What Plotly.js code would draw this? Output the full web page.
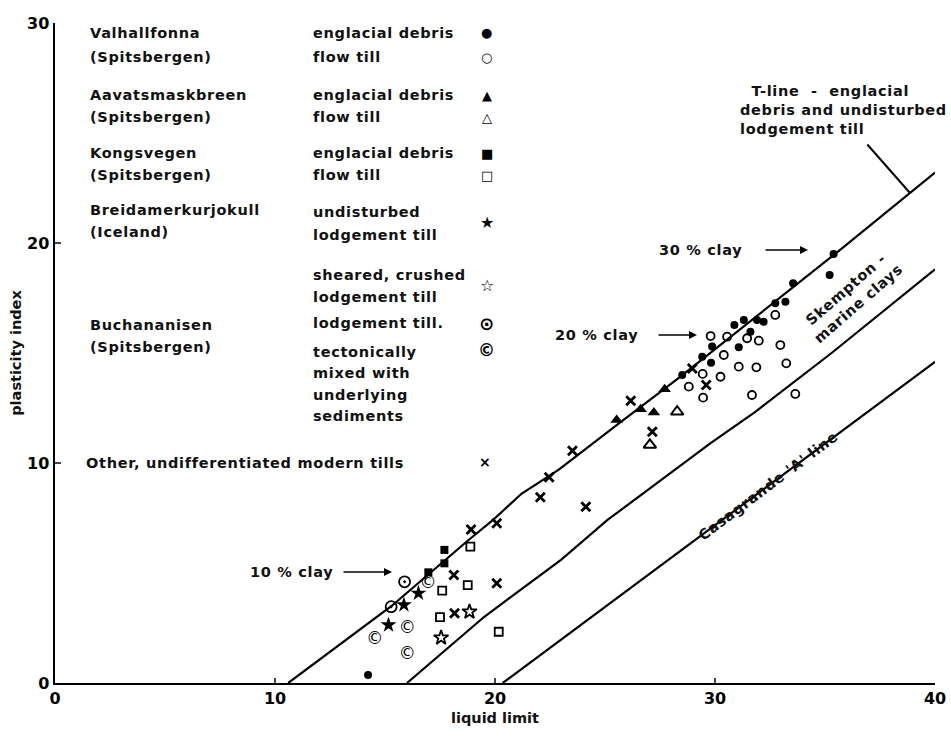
<!DOCTYPE html>
<html>
<head>
<meta charset="utf-8">
<script src="https://cdn.plot.ly/plotly-3.0.1.min.js"></script>
<style>html,body{margin:0;padding:0;background:#fff}#chart{width:951px;height:736px}
.annotation-text{letter-spacing:0.7px}</style>
</head>
<body>
<div id="chart"></div>
<script>
// ---- Data (liquid limit, plasticity index) ----
var valhEngX = [35.21,35.39,33.55,33.2,32.74,31.91,32.21,31.31,30.88,31.61,31.08,29.87,29.42,29.82,28.51,14.23];
var valhEngY = [18.55,19.5,18.17,17.33,17.26,16.5,16.42,16.5,16.27,15.97,15.26,15.29,14.83,14.56,14.0,0.36];
var valhFlowX = [29.8,30.55,32.74,31.99,32.97,30.4,29.44,30.25,31.08,31.88,33.24,28.81,29.46,31.68,33.65,31.46];
var valhFlowY = [15.77,15.74,16.73,15.56,15.36,14.91,14.05,13.92,14.38,14.35,14.53,13.47,12.97,13.09,13.14,15.67];
var aavEngX = [25.53,26.62,27.22,27.71];
var aavEngY = [11.95,12.44,12.29,13.35];
var aavFlowX = [28.28,27.04];
var aavFlowY = [12.33,10.82];
var kongEngX = [17.7,17.7,16.97];
var kongEngY = [6.05,5.44,5.03];
var kongFlowX = [18.88,17.6,18.76,17.5,20.17];
var kongFlowY = [6.2,4.2,4.45,2.99,2.33];
var breidUndX = [15.86,15.16,16.52];
var breidUndY = [3.55,2.64,4.08];
var breidShX = [18.84,17.55];
var breidShY = [3.24,2.06];
var buchLodgeX = [15.89,15.28];
var buchLodgeY = [4.6,3.47];
var buchTectX = [16.95,14.53,16.01,16.01];
var buchTectY = [4.5,1.95,2.48,1.3];
var otherX = [18.13,18.16,20.08,18.91,20.08,22.06,24.13,22.46,23.52,26.17,27.15,29.6,28.97];
var otherY = [4.91,3.17,4.53,6.98,7.26,8.44,8.01,9.35,10.56,12.83,11.42,13.55,14.3];

// reference lines
var tLineX = [10.6,15.3,18.8,19.9,21.2,22.9,25.5,28.4,35.7,38.9,40];
var tLineY = [0,3.5,6.5,7.4,8.6,9.7,11.7,13.9,19.7,22.3,23.2];
var skempX = [16,19.5,23,25.1,29.8,31.8,35.3,40];
var skempY = [0,3.0,5.6,7.4,10.9,12.3,15.0,18.8];
var aLineX = [20.35,25.7,29.3,40];
var aLineY = [0,4.0,6.65,14.6];

var xTicks = [0,10,20,30,40];
var yTicks = [0,10,20,30];

// ---- Legend texts ----
var siteLabels = ["Valhallfonna","(Spitsbergen)","Aavatsmaskbreen","(Spitsbergen)","Kongsvegen","(Spitsbergen)","Breidamerkurjokull","(Iceland)","Buchananisen","(Spitsbergen)","Other, undifferentiated modern tills"];
var siteRows = [33,57,95,117,153,175,210,232,325,347,463];
var typeLabels = ["englacial debris","flow till","englacial debris","flow till","englacial debris","flow till","undisturbed","lodgement till","sheared, crushed","lodgement till","lodgement till.","tectonically","mixed with","underlying","sediments"];
var typeRows = [33,57,95,117,153,175,212,235,275,297,323,352,373,395,416];
var symChars = ["●","○","▲","△","■","□","★","☆","⊙","©","×"];
var symRows = [33,57,95,117,153,175,222,285,323,350,462];
var symSizes = [13,13,13,13,13,13,16,16,18,17,14];

var L = 55, R = 16, T = 23, B = 53, W = 951, H = 736;
function px(x){ return (x - L) / (W - L - R); }
function py(y){ return (H - B - y) / (H - T - B); }

var FONT = "DejaVu Sans";
var TXT = {family:FONT,size:14.5,color:'#111',weight:'bold'};
var ann = [];
siteLabels.forEach(function(s,i){
  ann.push({xref:'paper',yref:'paper',x:px(i===10?84:88),y:py(siteRows[i]),text:s,showarrow:false,xanchor:'left',yanchor:'middle',font:TXT});
});
typeLabels.forEach(function(s,i){
  ann.push({xref:'paper',yref:'paper',x:px(311),y:py(typeRows[i]),text:s,showarrow:false,xanchor:'left',yanchor:'middle',font:TXT});
});
symChars.forEach(function(s,i){
  ann.push({xref:'paper',yref:'paper',x:px(i===10?485:487),y:py(symRows[i]),text:s,showarrow:false,xanchor:'center',yanchor:'middle',font:{family:FONT,size:symSizes[i],color:'#000',weight:'bold'}});
});
// clay labels with arrows
function clay(txt, tx, ty, ax0, ax1){
  ann.push({xref:'paper',yref:'paper',x:px(tx),y:py(ty),text:txt,showarrow:false,xanchor:'left',yanchor:'middle',font:TXT});
  ann.push({xref:'paper',yref:'paper',x:px(ax1),y:py(ty),ax:px(ax0),ay:py(ty),axref:'paper',ayref:'paper',text:'',showarrow:true,arrowhead:2,arrowsize:1,arrowwidth:1.6,arrowcolor:'#000'});
}
clay("10 % clay",248,572,342,392);
clay("20 % clay",553,335,657,697);
clay("30 % clay",657,250,764,808);
// T-line label
ann.push({xref:'paper',yref:'paper',x:px(738),y:py(110),text:"  T-line  -  englacial<br>debris and undisturbed<br>lodgement till",showarrow:false,xanchor:'left',yanchor:'middle',align:'left',font:TXT});
ann.push({xref:'paper',yref:'paper',x:px(910),y:py(193),ax:px(866),ay:py(143),axref:'paper',ayref:'paper',text:'',showarrow:true,arrowhead:0,arrowwidth:2,arrowcolor:'#000'});
// rotated line labels
ann.push({xref:'paper',yref:'paper',x:px(852),y:py(296),text:"Skempton -<br>marine clays",showarrow:false,textangle:-41,xanchor:'center',yanchor:'middle',font:TXT});
ann.push({xref:'paper',yref:'paper',x:px(768),y:py(486),text:"Casagrande 'A' line",showarrow:false,textangle:-37,xanchor:'center',yanchor:'middle',font:TXT});

function pts(x,y,sym,size,lw,name){
  return {type:'scatter',mode:'markers',x:x,y:y,name:name,cliponaxis:false,
    marker:{symbol:sym,size:size,color:'#000',line:{color:'#000',width:lw}}};
}
var lineStyle = {color:'#000',width:2.2};
var traces = [
  {type:'scatter',mode:'lines',x:tLineX,y:tLineY,line:lineStyle,name:'T-line'},
  {type:'scatter',mode:'lines',x:skempX,y:skempY,line:lineStyle,name:'Skempton'},
  {type:'scatter',mode:'lines',x:aLineX,y:aLineY,line:lineStyle,name:'A-line'},
  pts(valhEngX,valhEngY,'circle',8,0,'Valhallfonna englacial'),
  pts(valhFlowX,valhFlowY,'circle-open',8,1.8,'Valhallfonna flow till'),
  pts(aavEngX,aavEngY,'triangle-up',11,0,'Aavatsmaskbreen englacial'),
  pts(aavFlowX,aavFlowY,'triangle-up-open',11,2,'Aavatsmaskbreen flow till'),
  pts(kongEngX,kongEngY,'square',8,0,'Kongsvegen englacial'),
  pts(kongFlowX,kongFlowY,'square-open',8,1.8,'Kongsvegen flow till'),
  pts(breidUndX,breidUndY,'star',12,0,'undisturbed lodgement till'),
  pts(breidShX,breidShY,'star-open',11,1.8,'sheared lodgement till'),
  pts(buchLodgeX,buchLodgeY,'circle-open-dot',11,1.8,'Buchananisen lodgement till'),
  {type:'scatter',mode:'text',x:buchTectX,y:buchTectY,text:buchTectX.map(function(){return '©';}),textfont:{family:FONT,size:17,color:'#000'},name:'tectonically mixed',cliponaxis:false},
  pts(otherX,otherY,'x-thin-open',9,2.8,'other tills')
];

var layout = {
  width:W,height:H,showlegend:false,
  margin:{l:L,r:R,t:T,b:B},
  paper_bgcolor:'#fff',plot_bgcolor:'#fff',
  xaxis:{range:[0,40],tickvals:xTicks,ticktext:xTicks.map(String),ticks:'inside',ticklen:5,tickwidth:2,
    showline:true,linecolor:'#000',linewidth:2.2,showgrid:false,zeroline:false,mirror:false,
    tickfont:{family:FONT,size:16,color:'#000',weight:'bold'},
    title:{text:'liquid limit',font:{family:FONT,size:14.5,color:'#111',weight:'bold'},standoff:6}},
  yaxis:{range:[0,30],tickvals:yTicks,ticktext:yTicks.map(String),ticks:'inside',ticklen:6,tickwidth:2,
    showline:true,linecolor:'#000',linewidth:2.5,showgrid:false,zeroline:false,
    tickfont:{family:FONT,size:16,color:'#000',weight:'bold'},
    title:{text:'plasticity index',font:{family:FONT,size:14.5,color:'#111',weight:'bold'},standoff:2}},
  annotations:ann
};
Plotly.newPlot('chart',traces,layout,{displayModeBar:false,staticPlot:true});
</script>
</body>
</html>
